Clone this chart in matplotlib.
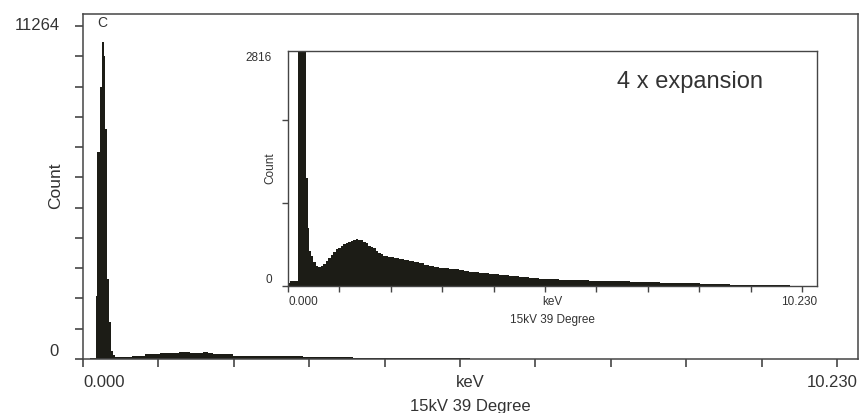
import matplotlib.pyplot as plt
import numpy as np

plt.rcParams['font.family'] = ['Liberation Sans', 'DejaVu Sans']

# --------- spectrum (step edges in keV, counts) ---------
main_kev = [0.00, 0.10, 0.172, 0.194, 0.231, 0.254, 0.285, 0.303, 0.322,
            0.330, 0.352, 0.380, 0.405, 0.430, 0.660, 0.840, 1.040, 1.300,
            1.450, 1.630, 1.700, 1.770, 2.030, 2.540, 2.700, 2.990, 3.660,
            4.120, 5.250, 6.500, 8.000, 10.50]
main_counts = [0, 20, 2130, 6996, 9190, 10713, 10240, 7773, 4500,
               2700, 1250, 270, 146, 68, 113, 158, 214, 226,
               214, 230, 200, 169, 113, 100, 110, 68, 45,
               28, 15, 8, 4, 0]

inset_kev = [0.00, 0.04, 0.19, 0.36, 0.40, 0.42, 0.45, 0.50, 0.55, 0.60,
             0.65, 0.70, 0.75, 0.80, 0.85, 0.90, 0.95, 1.00, 1.05, 1.10,
             1.15, 1.20, 1.25, 1.30, 1.35, 1.40, 1.45, 1.50, 1.55, 1.60,
             1.65, 1.70, 1.75, 1.80, 1.85, 1.90, 1.95, 2.00, 2.10, 2.20,
             2.30, 2.40, 2.50, 2.60, 2.70, 2.80, 2.90, 3.00, 3.10, 3.20,
             3.30, 3.40, 3.50, 3.60, 3.70, 3.80, 3.90, 4.00, 4.20, 4.40,
             4.60, 4.80, 5.00, 5.20, 5.40, 5.60, 5.80, 6.00, 6.20, 6.40,
             6.60, 6.80, 7.00, 7.20, 7.40, 7.60, 7.80, 8.00, 8.20, 8.40,
             8.60, 8.80, 9.00, 9.20, 9.40, 9.60, 9.80, 10.00, 10.20, 10.50]
inset_counts = [40, 55, 10700, 1300, 700, 420, 360, 283, 245, 223,
                235, 263, 300, 340, 372, 410, 440, 462, 478, 500,
                518, 530, 541, 552, 560, 548, 553, 530, 512, 486,
                470, 452, 418, 396, 381, 366, 356, 350, 336, 326,
                314, 302, 286, 272, 255, 242, 231, 222, 214, 206,
                200, 192, 181, 173, 168, 161, 156, 150, 136, 124,
                113, 98, 88, 82, 76, 70, 68, 66, 62, 58,
                56, 52, 50, 45, 40, 36, 33, 30, 25, 20,
                18, 17, 15, 14, 14, 12, 10, 5, 2, 0]

main_ymax = 11264
inset_ymax = 2816
kev_max = 10.230

tick_kev = np.linspace(0, kev_max, 11)
ink = '#1c1c16'
grey = '#454545'
txt = '#333333'

fig = plt.figure(figsize=(8.6, 4.14), dpi=100, facecolor='white')

# ---------- main spectrum ----------
ax = fig.add_axes([0.0965, 0.1304, 0.9012, 0.8333])
ax.fill_between(main_kev, main_counts, step='post', color=ink, lw=0)
ax.set_xlim(0, 10.515)
ax.set_ylim(0, 11670)
ax.set_xticks(tick_kev)
ax.set_yticks(np.arange(0, main_ymax + 1, 1024))
ax.set_xticklabels([])
ax.set_yticklabels([])
ax.tick_params(axis='both', direction='out', length=6, width=1.2,
               color=grey)
for s in ax.spines.values():
    s.set_color(grey)
    s.set_linewidth(1.1)

ax.text(0, -0.064, '0.000', transform=ax.transAxes, ha='left', va='center',
        fontsize=12, color=txt)
ax.text(0.5, -0.064, 'keV', transform=ax.transAxes, ha='center',
        va='center', fontsize=12, color=txt)
ax.text(1, -0.064, '10.230', transform=ax.transAxes, ha='right',
        va='center', fontsize=12, color=txt)
ax.text(0.5, -0.136, '15kV 39 Degree', transform=ax.transAxes, ha='center',
        va='center', fontsize=12, color=txt)
ax.text(-0.0297, 0.971, str(main_ymax), transform=ax.transAxes, ha='right',
        va='center', fontsize=12, color=txt)
ax.text(-0.032, 0.026, '0', transform=ax.transAxes, ha='right',
        va='center', fontsize=12, color=txt)
ax.text(-0.035, 0.504, 'Count', transform=ax.transAxes, ha='center',
        va='center', rotation=90, fontsize=12.5, color=txt)
ax.text(0.0245, 0.978, 'C', transform=ax.transAxes, ha='center',
        va='center', fontsize=10, color=txt)

# ---------- 4x expansion inset ----------
ins = fig.add_axes([0.3349, 0.3068, 0.6151, 0.5676])
ins.fill_between(inset_kev, inset_counts, step='post', color=ink, lw=0)
ins.set_xlim(0, 10.529)
ins.set_ylim(0, 2830)
ins.set_xticks(tick_kev)
ins.set_yticks([0, 1000, 2000])
ins.set_xticklabels([])
ins.set_yticklabels([])
ins.tick_params(axis='both', direction='out', length=4, width=1.0,
                color=grey)
for s in ins.spines.values():
    s.set_color(grey)
    s.set_linewidth(1.0)

ins.text(0, -0.064, '0.000', transform=ins.transAxes, ha='left',
         va='center', fontsize=8.5, color=txt)
ins.text(0.5, -0.064, 'keV', transform=ins.transAxes, ha='center',
         va='center', fontsize=8.5, color=txt)
ins.text(1, -0.064, '10.230', transform=ins.transAxes, ha='right',
         va='center', fontsize=8.5, color=txt)
ins.text(0.5, -0.14, '15kV 39 Degree', transform=ins.transAxes,
         ha='center', va='center', fontsize=8.5, color=txt)
ins.text(-0.030, 0.974, str(inset_ymax), transform=ins.transAxes,
         ha='right', va='center', fontsize=8.5, color=txt)
ins.text(-0.030, 0.03, '0', transform=ins.transAxes, ha='right',
         va='center', fontsize=8.5, color=txt)
ins.text(-0.034, 0.506, 'Count', transform=ins.transAxes, ha='center',
         va='center', rotation=90, fontsize=8.5, color=txt)
ins.text(0.622, 0.872, '4 x expansion', transform=ins.transAxes,
         ha='left', va='center', fontsize=17, color=txt)

plt.savefig('out.png', dpi=100, facecolor='white')
